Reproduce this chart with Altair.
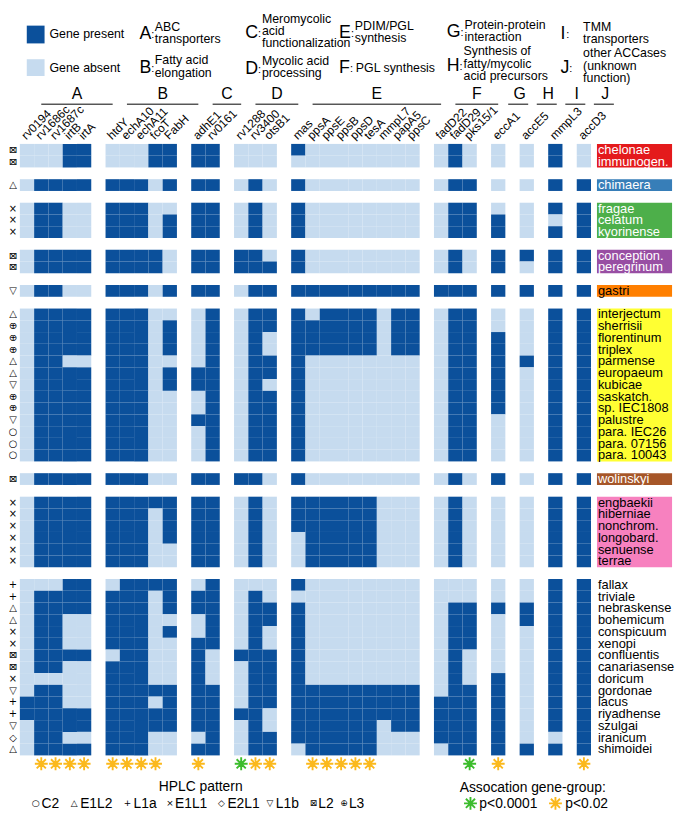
import altair as alt
import pandas as pd

FONT = "Liberation Sans"
SYM = "DejaVu Sans"
DARK = "#0b509b"
LIGHT = "#c6dbef"
ORANGE = "#fbb91d"
GREEN = "#3cbc2c"

# ---------------- data ----------------
group_letters = ["A", "B", "C", "D", "E", "F", "G", "H", "I", "J"]
genes_A = ["rv0194", "rv1686c", "rv1687c", "irtB", "irtA"]
genes_B = ["htdY", "echA10", "echA11", "fcoT", "FabH"]
genes_C = ["adhE1", "rv0161"]
genes_D = ["rv1288", "rv3400", "otsB1"]
genes_E = ["mas", "ppsA", "ppsE", "ppsB", "ppsD", "tesA", "mmpL7", "papA5", "ppsC"]
genes_F = ["fadD22", "fadD29", "pks15/1"]
genes_G = ["eccA1"]
genes_H = ["accE5"]
genes_I = ["mmpL3"]
genes_J = ["accD3"]
genes_by_group = [genes_A, genes_B, genes_C, genes_D, genes_E, genes_F,
                  genes_G, genes_H, genes_I, genes_J]

group_desc = {
    "A": ["ABC", "transporters"],
    "B": ["Fatty acid", "elongation"],
    "C": ["Meromycolic", "acid", "functionalization"],
    "D": ["Mycolic acid", "processing"],
    "E": ["PDIM/PGL", "synthesis"],
    "F": ["PGL synthesis"],
    "G": ["Protein-protein", "interaction"],
    "H": ["Synthesis of", "fatty/mycolic", "acid precursors"],
    "I": ["TMM", "transporters"],
    "J": ["other ACCases", "(unknown", "function)"],
}

species_groups = [
    ["chelonae", "immunogen."],
    ["chimaera"],
    ["fragae", "celatum", "kyorinense"],
    ["conception.", "peregrinum"],
    ["gastri"],
    ["interjectum", "sherrisii", "florentinum", "triplex", "parmense", "europaeum",
     "kubicae", "saskatch.", "sp. IEC1808", "palustre", "para. IEC26",
     "para. 07156", "para. 10043"],
    ["wolinskyi"],
    ["engbaekii", "hiberniae", "nonchrom.", "longobard.", "senuense", "terrae"],
    ["fallax", "triviale", "nebraskense", "bohemicum", "conspicuum", "xenopi",
     "confluentis", "canariasense", "doricum", "gordonae", "lacus", "riyadhense",
     "szulgai", "iranicum", "shimoidei"],
]
group_box_colors = ["#e41a1c", "#377eb8", "#4daf4a", "#984ea3", "#ff7f00",
                    "#ffff33", "#a65628", "#f781bf", None]
group_text_colors = ["white", "white", "white", "white", "black",
                     "black", "white", "black", "black"]

hplc = ["L2", "L2",
        "E1L2",
        "E1L1", "E1L1", "E1L1",
        "L2", "L2",
        "L1b",
        "E1L2", "L3", "L3", "L3", "E1L2", "E1L2", "L1b", "L3", "L3", "L1b", "C2", "C2", "C2",
        "L2",
        "E1L1", "E1L1", "E1L1", "E1L1", "E1L1", "E1L1",
        "L1a", "L1a", "E1L2", "E1L2", "E1L1", "E1L1", "L2", "L2", "E1L1", "L1b",
        "L1a", "L1a", "L1b", "E2L1", "E1L2"]

# gene presence (1) / absence (0), groups A..J separated by spaces
presence = [
    "00011 00011 11 000 100000000 010 0 0 1 0",  # chelonae
    "00011 00011 11 000 000000000 010 0 0 1 0",  # immunogen.
    "01111 11101 11 010 100000000 011 0 0 1 1",  # chimaera
    "01100 11100 11 010 100000000 011 0 0 1 1",  # fragae
    "01100 11101 11 010 100000000 011 1 0 0 1",  # celatum
    "01100 11101 11 010 100000000 011 1 0 1 1",  # kyorinense
    "01111 11110 11 110 100000000 010 1 1 1 1",  # conception.
    "01111 11110 11 111 100000000 010 1 0 1 1",  # peregrinum
    "01100 11101 11 011 111111111 111 1 1 1 1",  # gastri
    "01111 11100 01 011 101111011 011 0 0 1 1",  # interjectum
    "01111 11101 01 011 111111011 011 0 0 1 1",  # sherrisii
    "01111 11101 01 010 111111011 011 1 0 1 1",  # florentinum
    "01111 11101 01 010 111111011 011 1 0 1 1",  # triplex
    "01100 11100 01 011 100000000 011 1 1 1 1",  # parmense
    "01111 11101 11 011 100000000 011 1 0 1 1",  # europaeum
    "01111 11101 11 010 100000000 011 1 0 1 1",  # kubicae
    "01111 11100 01 011 100000000 011 1 0 1 1",  # saskatch.
    "01111 11100 01 011 100000000 011 1 0 1 1",  # sp. IEC1808
    "01111 11100 11 011 100000000 011 0 0 1 1",  # palustre
    "01111 11100 01 011 100000000 011 0 0 1 1",  # para. IEC26
    "01111 11100 01 011 100000000 011 0 0 1 1",  # para. 07156
    "01111 11100 01 011 100000000 011 0 0 1 1",  # para. 10043
    "01111 11100 11 110 100000000 010 1 0 1 1",  # wolinskyi
    "01111 11111 11 010 111111000 010 0 0 1 1",  # engbaekii
    "01111 11101 11 010 111111000 010 0 0 1 1",  # hiberniae
    "01111 11101 11 010 111111000 010 0 0 1 1",  # nonchrom.
    "01111 11101 11 010 011111000 010 0 0 1 1",  # longobard.
    "01111 11100 11 010 011111000 010 0 0 1 1",  # senuense
    "01111 11100 11 010 011111000 010 0 0 1 1",  # terrae
    "00011 01111 01 000 100000000 000 0 0 1 1",  # fallax
    "01111 11101 11 010 000000000 000 0 0 1 1",  # triviale
    "01111 11101 11 011 100000000 011 1 1 1 1",  # nebraskense
    "01100 11100 01 011 100000000 011 0 1 1 1",  # bohemicum
    "01100 11101 01 010 100000000 011 0 0 1 1",  # conspicuum
    "01100 11100 11 010 100000000 011 0 0 1 1",  # xenopi
    "01111 01100 10 111 100000000 010 0 0 1 1",  # confluentis
    "01100 11100 10 011 100000000 010 0 0 1 1",  # canariasense
    "00000 11100 10 011 100000000 010 1 0 1 1",  # doricum
    "01100 11111 11 011 111111111 011 1 0 1 1",  # gordonae
    "11100 11101 11 011 111111111 111 1 0 1 1",  # lacus
    "11111 11111 11 110 111111111 111 1 0 1 1",  # riyadhense
    "01111 11111 11 010 111111011 111 1 0 1 1",  # szulgai
    "01100 11100 01 011 111111000 111 1 0 0 1",  # iranicum
    "01111 11100 11 011 011111000 011 1 1 1 1",  # shimoidei
]

assoc_genes = ["rv1686c", "rv1687c", "irtB", "irtA", "htdY", "echA10", "echA11", "fcoT",
               "adhE1", "rv1288", "rv3400", "otsB1", "ppsA", "ppsE", "ppsB", "ppsD", "tesA",
               "pks15/1", "eccA1", "accD3"]
assoc_level = ["p<0.02", "p<0.02", "p<0.02", "p<0.02", "p<0.02", "p<0.02", "p<0.02", "p<0.02",
               "p<0.02", "p<0.0001", "p<0.02", "p<0.02", "p<0.02", "p<0.02", "p<0.02", "p<0.02",
               "p<0.02", "p<0.0001", "p<0.02", "p<0.02"]

hplc_codes = ["C2", "E1L2", "L1a", "E1L1", "E2L1", "L1b", "L2", "L3"]
hplc_glyphs = ["○", "△", "+", "×", "◇", "▽", "⊠", "⊕"]

# ---------------- tables ----------------
gene_rows, group_rows = [], []
col = 0
for letter, genes in zip(group_letters, genes_by_group):
    start = col
    for g in genes:
        gene_rows.append({"gene": g, "col": col, "mid": col + 0.5, "lab": col + 0.6})
        col += 1
    single = (col - start) == 1
    group_rows.append({"letter": letter, "center": (start + col) / 2 + 1.5,
                       "l0": start + 1.5 - (0.3 if single else 0.0),
                       "l1": col + 1.5 + (0.1 if single else 0.0)})
    col += 1
NCOL = col - 1  # 40

species_rows, box_rows = [], []
slot = 0
k = 0
for gi, names in enumerate(species_groups):
    s0 = slot
    for n in names:
        species_rows.append({"species": n, "slot": slot, "mid": slot + 0.5,
                             "tcolor": group_text_colors[gi],
                             "sym": hplc_glyphs[hplc_codes.index(hplc[k])]})
        slot += 1
        k += 1
    if group_box_colors[gi]:
        box_rows.append({"y0": s0, "y1": slot, "fill": group_box_colors[gi]})
    slot += 1
NROW = slot - 1  # 52

cells = []
for sp, pstr in zip(species_rows, presence):
    bits = pstr.replace(" ", "")
    assert len(bits) == len(gene_rows)
    for gr, b in zip(gene_rows, bits):
        cells.append({"species": sp["species"], "gene": gr["gene"],
                      "status": "Gene present" if b == "1" else "Gene absent",
                      "c0": gr["col"], "c1": gr["col"] + 1,
                      "r0": sp["slot"], "r1": sp["slot"] + 1})

cells_df = pd.DataFrame(cells)
species_df = pd.DataFrame(species_rows)
box_df = pd.DataFrame(box_rows)
genes_df = pd.DataFrame(gene_rows)
groups_df = pd.DataFrame(group_rows)
gcol = {g["gene"]: g["mid"] for g in gene_rows}
assoc_df = pd.DataFrame({"gene": assoc_genes, "level": assoc_level,
                         "mid": [gcol[g] for g in assoc_genes],
                         "color": [GREEN if l == "p<0.0001" else ORANGE for l in assoc_level]})

# ---------------- layout ----------------
W, H = 677, 809
OFF = 8  # page margin
xs = alt.Scale(domain=[0, NCOL], range=[20 - OFF, 598 - OFF], nice=False, zero=False)
ys = alt.Scale(domain=[0, NROW], range=[140.7 - OFF, 759.5 - OFF], nice=False, zero=False)
ONE = alt.Data(values=[{"k": 1}])
STAR = "M-1,0L1,0M0,-1L0,1M-0.71,-0.71L0.71,0.71M-0.71,0.71L0.71,-0.71"


def txt(x, y, text, size=12.5, align="left", baseline="middle", color="black",
        font=FONT, lh=None):
    props = dict(align=align, baseline=baseline, fontSize=size, font=font, color=color)
    if lh:
        props["lineHeight"] = lh
    return alt.Chart(ONE).mark_text(**props).encode(
        x=alt.value(x - OFF), y=alt.value(y - OFF), text=alt.value(text))


def star(x, y, color):
    return alt.Chart(ONE).mark_point(shape=STAR, filled=False, strokeWidth=1.9, size=170,
                                     color=color, opacity=1).encode(
        x=alt.value(x - OFF), y=alt.value(y - OFF))


cells_chart = alt.Chart(cells_df).mark_rect().encode(
    x=alt.X("c0:Q", scale=xs, axis=None), x2="c1:Q",
    y=alt.Y("r0:Q", scale=ys, axis=None), y2="r1:Q",
    color=alt.Color("status:N", scale=alt.Scale(domain=["Gene present", "Gene absent"],
                                                range=[DARK, LIGHT]), legend=None),
)

boxes = alt.Chart(box_df).mark_rect().encode(
    x=alt.value(604 - OFF), x2=alt.value(680 - OFF),
    y=alt.Y("y0:Q", scale=ys, axis=None), y2="y1:Q",
    color=alt.Color("fill:N", scale=None),
)

species_text = alt.Chart(species_df).mark_text(
    align="left", baseline="middle", fontSize=13, font=FONT).encode(
    x=alt.value(605 - OFF), y=alt.Y("mid:Q", scale=ys, axis=None),
    text="species:N", color=alt.Color("tcolor:N", scale=None))

hplc_text = alt.Chart(species_df).mark_text(
    align="center", baseline="middle", fontSize=10, font=SYM).encode(
    x=alt.value(13 - OFF), y=alt.Y("mid:Q", scale=ys, axis=None), text="sym:N")

gene_labels = alt.Chart(genes_df).mark_text(
    align="left", baseline="bottom", fontSize=12, font=FONT, angle=315).encode(
    x=alt.X("lab:Q", scale=xs, axis=None), y=alt.value(139 - OFF), text="gene:N")

group_lab = alt.Chart(groups_df).mark_text(
    align="center", baseline="middle", fontSize=16, font=FONT).encode(
    x=alt.X("center:Q", scale=xs, axis=None), y=alt.value(90 - OFF), text="letter:N")

group_line = alt.Chart(groups_df).mark_rule(color="black", strokeWidth=1).encode(
    x=alt.X("l0:Q", scale=xs, axis=None), x2="l1:Q", y=alt.value(100.5 - OFF))

stars = alt.Chart(assoc_df).mark_point(
    shape=STAR, filled=False, strokeWidth=1.9, size=170, opacity=1).encode(
    x=alt.X("mid:Q", scale=xs, axis=None), y=alt.value(768 - OFF),
    color=alt.Color("color:N", scale=None))

layers = [cells_chart, boxes, species_text, hplc_text, gene_labels, group_lab,
          group_line, stars]

# top legend
layers.append(alt.Chart(ONE).mark_rect(color=DARK).encode(
    x=alt.value(27 - OFF), x2=alt.value(45 - OFF), y=alt.value(21 - OFF), y2=alt.value(39 - OFF)))
layers.append(alt.Chart(ONE).mark_rect(color=LIGHT).encode(
    x=alt.value(27 - OFF), x2=alt.value(45 - OFF), y=alt.value(55 - OFF), y2=alt.value(72 - OFF)))
layers.append(txt(50, 30, "Gene present"))
layers.append(txt(50, 64, "Gene absent"))

cat_anchor = {  # letter x, letter y, colon x, desc x, first-line centre y
    "A": (141, 30, 153, 156.5, 23), "B": (141, 64, 153, 156.5, 57),
    "C": (248, 29, 261, 265, 15), "D": (248, 65, 261, 265, 58),
    "E": (343, 29, 355, 359, 22), "F": (343, 64, 354, 360, 64),
    "G": (452, 28, 466, 470, 21), "H": (452, 62, 465, 469, 48),
    "I": (567, 30, 573, 590, 23), "J": (567, 64, 576, 590, 50),
}
for letter in group_letters:
    lx, ly, cx, dx_, dy_ = cat_anchor[letter]
    layers.append(txt(lx, ly, letter, size=18))
    layers.append(txt(cx, ly + 1, ":", size=11))
    lines = group_desc[letter]
    if len(lines) == 1:
        layers.append(txt(dx_, dy_, lines[0]))
    else:
        layers.append(txt(dx_, dy_ - 7, lines, baseline="top", lh=12.5))

# bottom legends
layers.append(txt(203, 792, "HPLC pattern", size=14, align="center"))
leg_sym_x = [36, 75, 129, 172, 224, 273, 317, 348]
leg_lab_x = [42, 81, 135, 177, 230, 279, 322, 353]
for code, g, sx, tx in zip(hplc_codes, hplc_glyphs, leg_sym_x, leg_lab_x):
    layers.append(txt(sx, 808, g, size=9, align="center", font=SYM))
    layers.append(txt(tx, 809, code, size=14))

layers.append(txt(539, 793, "Assocation gene-group:", size=14, align="center"))
layers.append(star(476, 808, GREEN))
layers.append(txt(485, 809, "p<0.0001", size=14))
layers.append(star(562, 808, ORANGE))
layers.append(txt(572, 809, "p<0.02", size=14))

chart = alt.layer(*layers).properties(
    width=W, height=H, padding=0,
    autosize=alt.AutoSizeParams(type="none"),
).configure_view(stroke=None)

chart.save("out.html", embed_options={"renderer": "svg", "actions": False})
